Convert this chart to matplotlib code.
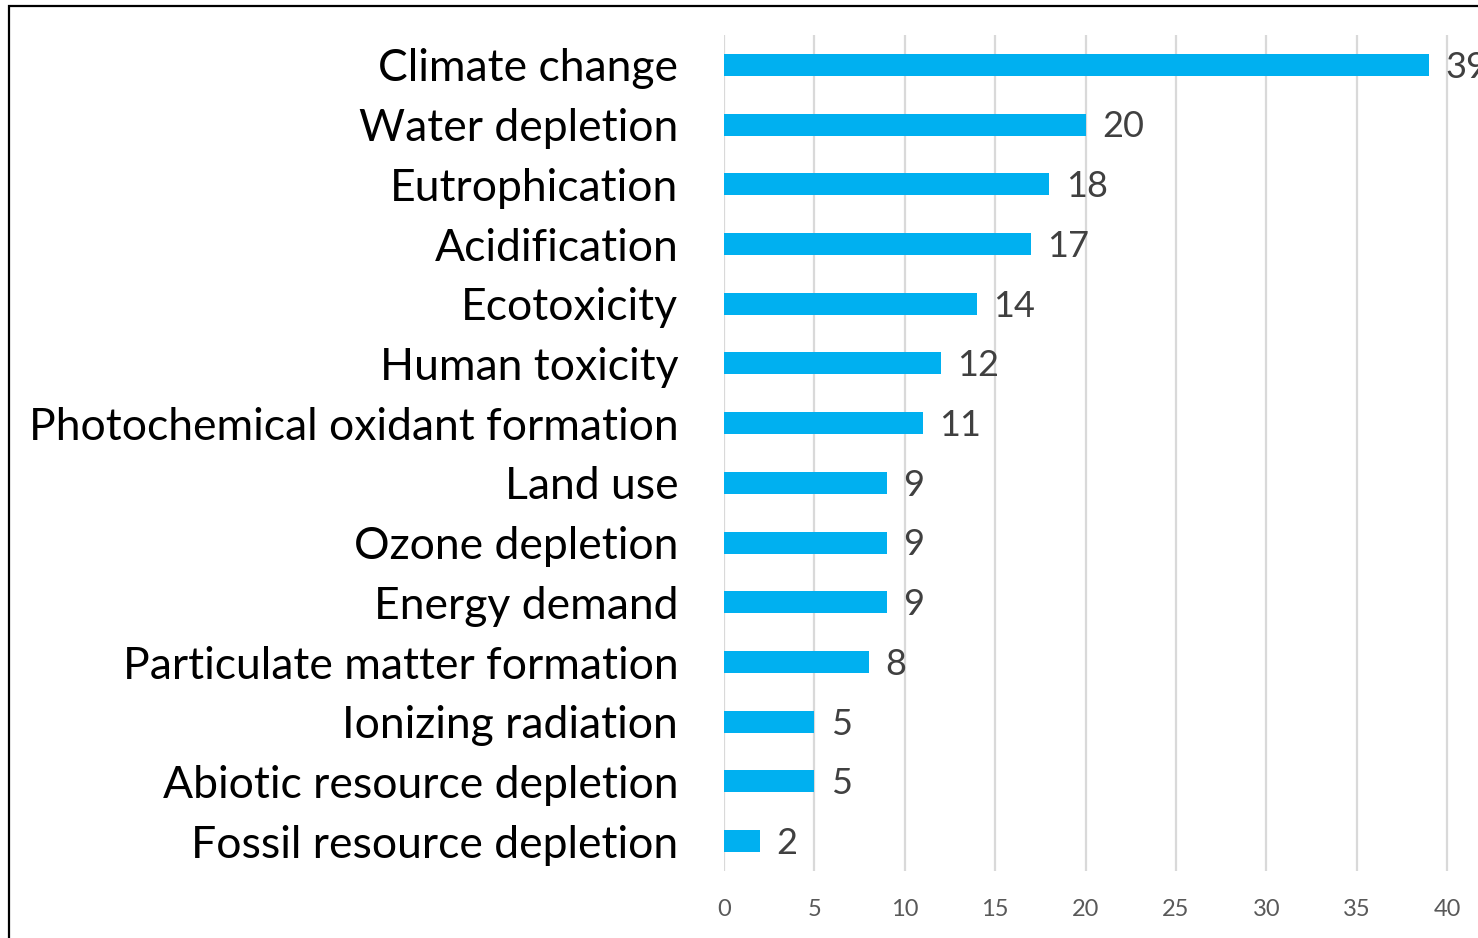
import matplotlib
matplotlib.use("Agg")
import matplotlib.pyplot as plt
from matplotlib.patches import Rectangle

categories = [
    "Climate change",
    "Water depletion",
    "Eutrophication",
    "Acidification",
    "Ecotoxicity",
    "Human toxicity",
    "Photochemical oxidant formation",
    "Land use",
    "Ozone depletion",
    "Energy demand",
    "Particulate matter formation",
    "Ionizing radiation",
    "Abiotic resource depletion",
    "Fossil resource depletion",
]
counts = [39, 20, 18, 17, 14, 12, 11, 9, 9, 9, 8, 5, 5, 2]
x_ticks = [0, 5, 10, 15, 20, 25, 30, 35, 40]

FONT = ["Lato", "DejaVu Sans"]
plt.rcParams["font.family"] = FONT

W, H = 1478, 938
fig = plt.figure(figsize=(W / 100, H / 100), dpi=100)
fig.patch.set_facecolor("white")

# frame around the chart area (right and bottom edges fall outside the canvas)
fig.add_artist(Rectangle((8.5 / W, -0.05), 1.2, 1 - 6 / H + 0.05,
                         transform=fig.transFigure, fill=False,
                         edgecolor="black", linewidth=1.6))

px_per_unit = (1447 - 724) / 40.0
xmax = 45
ax_left = 724 / W
ax_width = xmax * px_per_unit / W
ax_top = 35
ax_bottom = 871
ax = fig.add_axes([ax_left, 1 - ax_bottom / H, ax_width, (ax_bottom - ax_top) / H])

y = list(range(len(categories)))
ax.barh(y, counts, height=0.37, color="#00B0F0", zorder=3)
ax.set_ylim(len(categories) - 0.5, -0.5)
ax.set_xlim(0, xmax)

ax.set_xticks(x_ticks)
ax.set_xticklabels([str(t) for t in x_ticks])
ax.xaxis.grid(True, color="#D9D9D9", linewidth=1.6, zorder=0)
ax.set_axisbelow(True)
for s in ax.spines.values():
    s.set_visible(False)
ax.tick_params(axis="x", length=0, pad=20, labelsize=17, labelcolor="#595959")
ax.tick_params(axis="y", length=0, pad=33)
ax.set_yticks(y)
ax.set_yticklabels(categories, fontsize=32, color="black")

for yi, v in zip(y, counts):
    ax.text(v + 0.9, yi + 0.04, str(v), va="center", ha="left", fontsize=26,
            color="#404040")

fig.savefig("out.png", dpi=100)
